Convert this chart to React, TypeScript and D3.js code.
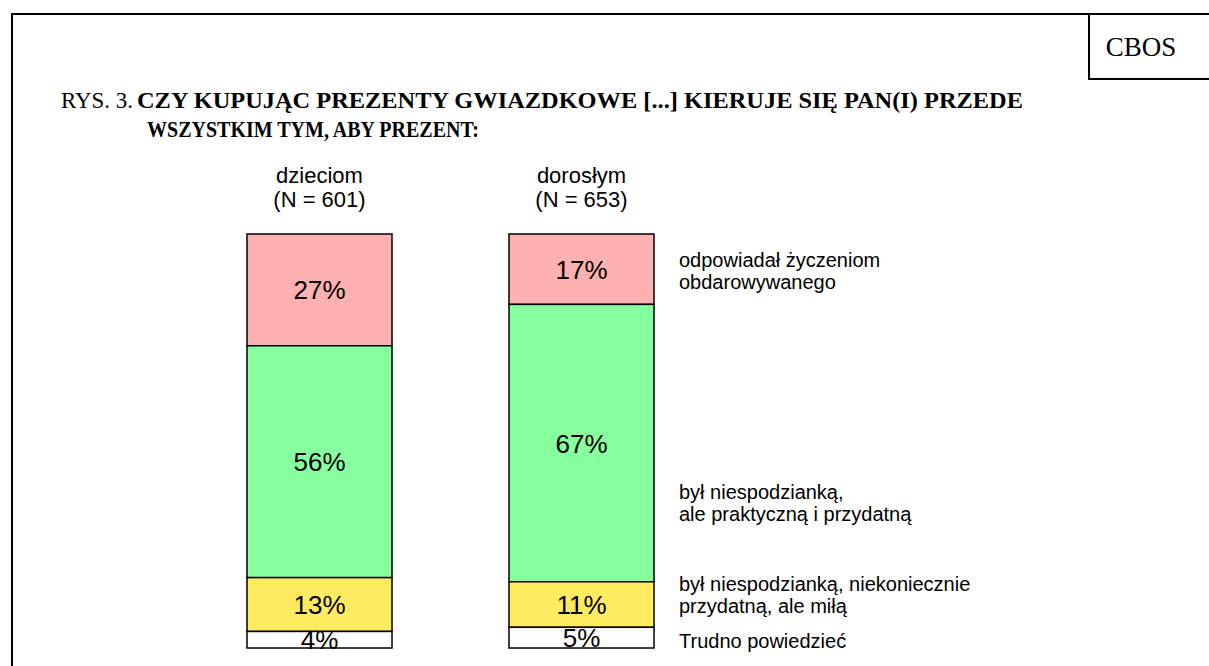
import * as d3 from "d3";
import { useEffect, useRef } from "react";

const groups = ["dzieciom", "dorosłym"];
const groupN = ["(N = 601)", "(N = 653)"];
const answers = [
  "odpowiadał życzeniom obdarowywanego",
  "był niespodzianką, ale praktyczną i przydatną",
  "był niespodzianką, niekoniecznie przydatną, ale miłą",
  "Trudno powiedzieć",
];
const legendLines = [
  ["odpowiadał życzeniom", "obdarowywanego"],
  ["był niespodzianką,", "ale praktyczną i przydatną"],
  ["był niespodzianką, niekoniecznie", "przydatną, ale miłą"],
  ["Trudno powiedzieć"],
];
const children = [27, 56, 13, 4];
const adults = [17, 67, 11, 5];
const colors = ["#ffb0b0", "#88ff9f", "#ffeb60", "#ffffff"];

function App() {
  const ref = useRef<SVGSVGElement>(null);

  useEffect(() => {
    if (!ref.current) return;
    const svg = d3.select(ref.current);
    svg.selectAll("*").remove();

    // frame
    svg.append("path")
      .attr("d", "M12,666 V14 H1209")
      .attr("fill", "none")
      .attr("stroke", "#000")
      .attr("stroke-width", 2);
    svg.append("path")
      .attr("d", "M1089,14 V79 H1209")
      .attr("fill", "none")
      .attr("stroke", "#000")
      .attr("stroke-width", 2);
    const serif = "Liberation Serif, serif";
    svg.append("text")
      .attr("x", 1141)
      .attr("y", 56)
      .attr("text-anchor", "middle")
      .attr("font-family", serif)
      .attr("font-size", 27)
      .text("CBOS");

    // title
    svg.append("text")
      .attr("x", 61).attr("y", 108)
      .attr("font-family", serif).attr("font-size", 23)
      .attr("textLength", 72).attr("lengthAdjust", "spacingAndGlyphs")
      .text("RYS. 3.");
    svg.append("text")
      .attr("x", 137).attr("y", 108)
      .attr("font-family", serif).attr("font-size", 23).attr("font-weight", "bold")
      .attr("textLength", 886).attr("lengthAdjust", "spacingAndGlyphs")
      .text("CZY KUPUJĄC PREZENTY GWIAZDKOWE [...] KIERUJE SIĘ PAN(I) PRZEDE");
    svg.append("text")
      .attr("x", 147).attr("y", 137)
      .attr("font-family", serif).attr("font-size", 23).attr("font-weight", "bold")
      .attr("textLength", 332).attr("lengthAdjust", "spacingAndGlyphs")
      .text("WSZYSTKIM TYM, ABY PREZENT:");

    const x = d3.scaleBand<string>()
      .domain(groups)
      .range([247, 654])
      .paddingInner(117 / 262);
    const y = d3.scaleLinear().domain([0, 100]).range([234, 648]);

    const sans = "Liberation Sans, Arial, sans-serif";
    const data = [children, adults];

    groups.forEach((g, gi) => {
      const x0 = x(g)!;
      const bw = x.bandwidth();
      const cx = x0 + bw / 2;
      svg.append("text")
        .attr("x", cx).attr("y", 183)
        .attr("text-anchor", "middle")
        .attr("font-family", sans).attr("font-size", 22)
        .text(g);
      svg.append("text")
        .attr("x", cx).attr("y", 207)
        .attr("text-anchor", "middle")
        .attr("font-family", sans).attr("font-size", 22)
        .text(groupN[gi]);

      const vals = data[gi];
      const cum = d3.cumsum(vals);
      const bar = svg.append("g");
      vals.forEach((v, i) => {
        const top = y(cum[i] - v);
        const bottom = y(cum[i]);
        bar.append("rect")
          .attr("x", x0).attr("y", top)
          .attr("width", bw).attr("height", bottom - top)
          .attr("fill", colors[i])
          .attr("stroke", "#000")
          .attr("stroke-width", 1.5);
      });
      vals.forEach((v, i) => {
        const top = y(cum[i] - v);
        const bottom = y(cum[i]);
        bar.append("text")
          .attr("x", cx).attr("y", (top + bottom) / 2 + 9.5)
          .attr("text-anchor", "middle")
          .attr("font-family", sans).attr("font-size", 26)
          .text(`${v}%`);
      });
    });

    // legend
    const legendY = [267, 499, 591, 648];
    legendLines.forEach((lines, i) => {
      const t = svg.append("text")
        .attr("font-family", sans)
        .attr("font-size", 20)
        .attr("aria-label", answers[i]);
      lines.forEach((l, j) => {
        t.append("tspan")
          .attr("x", 679)
          .attr("y", legendY[i] + j * 22)
          .text(l);
      });
    });
  }, []);

  return (
    <svg
      ref={ref}
      width={1209}
      height={666}
      style={{ position: "absolute", left: 0, top: 0, background: "#fff" }}
    />
  );
}

export default App;
